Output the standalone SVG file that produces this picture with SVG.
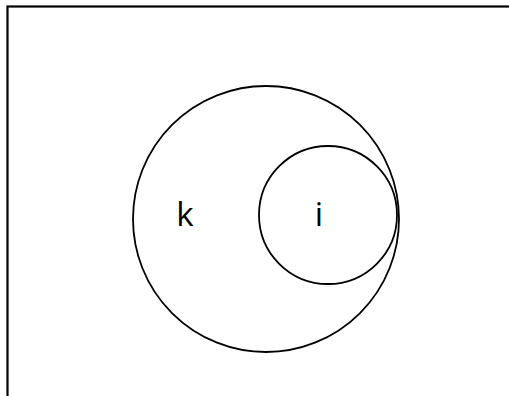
<svg xmlns="http://www.w3.org/2000/svg" width="509" height="396" viewBox="0 0 509 396">
<style>
.c{fill:none;stroke:#000;stroke-width:1.8}
.t{font-family:"Open Sans","DejaVu Sans",sans-serif;font-size:33px;fill:#000;text-anchor:middle}
</style>
<rect x="0" y="0" width="509" height="396" fill="#fff"/>
<rect x="7.5" y="6.5" width="600" height="500" fill="none" stroke="#000" stroke-width="2.2"/>
<g id="k"><circle class="c" cx="266" cy="219" r="133"/><text class="t" x="185" y="226">k</text></g>
<g id="i"><circle class="c" cx="328" cy="215" r="69"/><text class="t" x="319" y="226">i</text></g>
<g id="connectors"></g>
</svg>
